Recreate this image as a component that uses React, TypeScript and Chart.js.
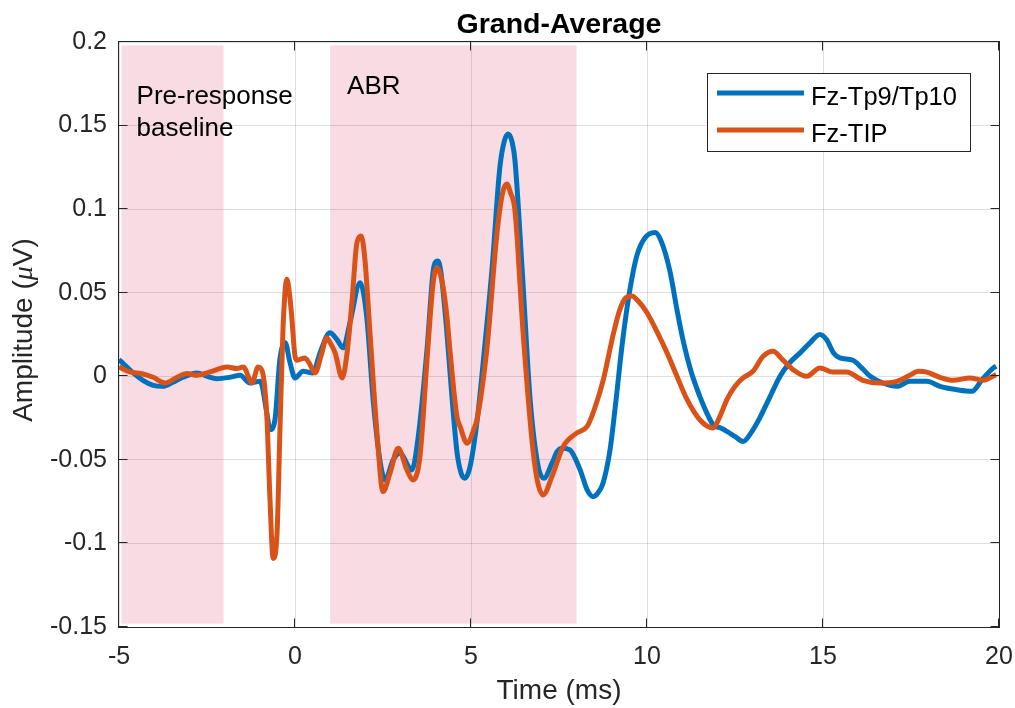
import React, { useEffect, useRef } from "react";
import { Chart, registerables } from "chart.js";

Chart.register(...registerables);

// ---- Data ----
const timeBlue = [
  -5.0, -4.83, -4.6, -4.32, -4.03, -3.75, -3.47, -3.18, -2.78, -2.5, -2.22, -1.85, -1.56, -1.28, -0.99,
  -0.8, -0.71, -0.57, -0.43, -0.28, -0.14, 0.0, 0.23, 0.51, 0.71, 0.99, 1.19, 1.37, 1.56, 1.85, 2.04,
  2.22, 2.41, 2.56, 2.79, 2.98, 3.32, 3.49, 3.75, 3.92, 3.98, 4.06, 4.14, 4.3, 4.45, 4.6, 4.72, 4.83,
  4.95, 5.06, 5.2, 5.4, 5.6, 5.82, 5.95, 6.06, 6.17, 6.25, 6.45, 6.68, 6.91, 7.07, 7.3, 7.45, 7.59,
  7.81, 8.1, 8.3, 8.47, 8.6, 8.75, 8.95, 9.1, 9.3, 9.5, 9.71, 9.95, 10.23, 10.4, 10.65, 10.85, 11.02,
  11.25, 11.5, 11.7, 11.88, 12.1, 12.27, 12.5, 12.73, 12.95, 13.2, 13.5, 13.78, 14.05, 14.35, 14.63,
  14.91, 15.1, 15.3, 15.48, 15.85, 16.1, 16.34, 16.7, 17.1, 17.47, 17.95, 18.32, 18.8, 19.23, 19.52,
  19.84, 19.92,
];
const ampBlue = [
  0.01, 0.0066, 0.002, -0.0024, -0.0054, -0.006, -0.0036, -0.0006, 0.002, 0.0, -0.0014, -0.0006, 0.0006,
  -0.004, -0.003, -0.022, -0.032, -0.026, 0.01, 0.02, 0.008, -0.001, 0.003, 0.002, 0.014, 0.026, 0.022,
  0.017, 0.032, 0.056, 0.035, -0.014, -0.05, -0.062, -0.05, -0.046, -0.056, -0.038, 0.016, 0.062, 0.068,
  0.069, 0.063, 0.03, -0.01, -0.045, -0.058, -0.061, -0.056, -0.044, -0.022, 0.02, 0.065, 0.125, 0.141,
  0.145, 0.14, 0.129, 0.065, -0.014, -0.054, -0.061, -0.052, -0.045, -0.043, -0.044, -0.056, -0.068,
  -0.072, -0.07, -0.064, -0.044, -0.018, 0.02, 0.05, 0.072, 0.083, 0.086, 0.081, 0.063, 0.04, 0.022,
  0.003, -0.012, -0.022, -0.029, -0.031, -0.033, -0.036, -0.039, -0.034, -0.025, -0.012, 0.0, 0.008,
  0.014, 0.02, 0.025, 0.022, 0.014, 0.011, 0.0096, 0.005, 0.0, -0.004, -0.006, -0.003, -0.003, -0.006,
  -0.008, -0.009, -0.002, 0.005, 0.006,
];

const timeOrange = [
  -5.0, -4.69, -4.32, -4.03, -3.69, -3.35, -3.07, -2.78, -2.41, -1.93, -1.65, -1.47, -1.22, -1.05, -0.93,
  -0.8, -0.71, -0.62, -0.51, -0.43, -0.34, -0.23, -0.16, -0.09, 0.0, 0.06, 0.28, 0.4, 0.57, 0.75, 0.9,
  1.0, 1.14, 1.34, 1.48, 1.62, 1.76, 1.88, 1.99, 2.13, 2.33, 2.5, 2.7, 2.93, 3.18, 3.35, 3.55, 3.75,
  3.92, 4.03, 4.1, 4.21, 4.32, 4.4, 4.6, 4.69, 4.89, 5.11, 5.17, 5.45, 5.74, 5.9, 6.02, 6.12, 6.25,
  6.48, 6.76, 6.9, 7.05, 7.3, 7.62, 8.0, 8.3, 8.5, 8.76, 9.04, 9.23, 9.4, 9.57, 9.75, 10.0, 10.3,
  10.57, 10.85, 11.14, 11.5, 11.88, 12.05, 12.27, 12.5, 12.73, 13.01, 13.3, 13.58, 13.85, 14.15, 14.54,
  14.91, 15.28, 15.67, 16.13, 16.62, 17.1, 17.47, 17.7, 17.95, 18.32, 18.7, 19.18, 19.55, 19.92,
];
const ampOrange = [
  0.0056, 0.0026, 0.0014, -0.0006, -0.004, -0.0006, 0.0016, 0.0006, 0.0026, 0.0056, 0.0046, 0.0056,
  -0.004, 0.0056, 0.003, -0.024, -0.074, -0.109, -0.094, -0.034, 0.029, 0.058, 0.05, 0.035, 0.012,
  0.0096, 0.011, 0.008, 0.002, 0.013, 0.023, 0.02, 0.014, -0.001, 0.014, 0.045, 0.08, 0.084, 0.069,
  0.026, -0.034, -0.069, -0.058, -0.043, -0.056, -0.062, -0.048, 0.0096, 0.055, 0.065, 0.063, 0.053,
  0.035, 0.016, -0.024, -0.03, -0.04, -0.03, -0.026, 0.016, 0.086, 0.11, 0.115, 0.11, 0.099, 0.026,
  -0.044, -0.064, -0.071, -0.06, -0.042, -0.034, -0.03, -0.02, -0.002, 0.025, 0.04, 0.047, 0.048, 0.045,
  0.038, 0.026, 0.014, 0.0, -0.014, -0.026, -0.031, -0.025, -0.014, -0.006, -0.001, 0.003, 0.012, 0.015,
  0.01, 0.004, 0.0, 0.005, 0.0025, 0.0025, -0.0024, -0.004, -0.003, 0.0006, 0.003, 0.0025, -0.0006,
  -0.0024, -0.001, -0.0024, 0.001,
];

const seriesLabels = ["Fz-Tp9/Tp10", "Fz-TIP"];
const seriesColors = ["#0072BD", "#D95319"];

const xTicks = [-5, 0, 5, 10, 15, 20];
const xTickLabels = ["-5", "0", "5", "10", "15", "20"];
const yTicks = [-0.15, -0.1, -0.05, 0, 0.05, 0.1, 0.15, 0.2];
const yTickLabels = ["-0.15", "-0.1", "-0.05", "0", "0.05", "0.1", "0.15", "0.2"];

// shaded windows [start, end] in ms, and their vertical extent
const shadeStarts = [-4.93, 1.0];
const shadeEnds = [-2.03, 8.0];
const shadeTop = 0.198;
const shadeBottom = -0.148;

// region annotations: text lines, x (ms), y (µV) of each baseline
const noteLines = ["Pre-response", "baseline", "ABR"];
const noteX = [-4.5, -4.5, 1.48];
const noteY = [0.163, 0.1435, 0.169];

const FONT = '"Liberation Sans", Arial, Helvetica, sans-serif';
const AXIS_COLOR = "#262626";
const GRID_COLOR = "rgba(38,38,38,0.15)";

const decorPlugin = {
  id: "decor",
  beforeDraw(chart: any) {
    const { ctx, scales } = chart;
    const x = scales.x;
    const y = scales.y;
    ctx.save();
    ctx.fillStyle = "#f9dbe3";
    for (let i = 0; i < shadeStarts.length; i++) {
      const x0 = x.getPixelForValue(shadeStarts[i]);
      const x1 = x.getPixelForValue(shadeEnds[i]);
      const y0 = y.getPixelForValue(shadeTop);
      const y1 = y.getPixelForValue(shadeBottom);
      ctx.fillRect(x0, y0, x1 - x0, y1 - y0);
    }
    ctx.restore();
  },
  afterDraw(chart: any) {
    const { ctx, chartArea, scales } = chart;
    const x = scales.x;
    const y = scales.y;
    const { left, right, top, bottom } = chartArea;
    ctx.save();

    // axes box
    ctx.strokeStyle = AXIS_COLOR;
    ctx.lineWidth = 1;
    ctx.strokeRect(Math.round(left) - 0.5, Math.round(top) - 0.5, Math.round(right - left) + 1, Math.round(bottom - top) + 1);

    // inward tick marks on all four sides
    const tl = 8.5;
    ctx.beginPath();
    for (const v of xTicks) {
      const px = Math.round(x.getPixelForValue(v)) - 0.5;
      ctx.moveTo(px, bottom);
      ctx.lineTo(px, bottom - tl);
      ctx.moveTo(px, top);
      ctx.lineTo(px, top + tl);
    }
    for (const v of yTicks) {
      const py = Math.round(y.getPixelForValue(v)) - 0.5;
      ctx.moveTo(left, py);
      ctx.lineTo(left + tl, py);
      ctx.moveTo(right, py);
      ctx.lineTo(right - tl, py);
    }
    ctx.stroke();

    // title
    ctx.fillStyle = "#000";
    ctx.font = `bold 28.5px ${FONT}`;
    ctx.textAlign = "center";
    ctx.textBaseline = "alphabetic";
    ctx.fillText("Grand-Average", (left + right) / 2, 33);

    // x label
    ctx.fillStyle = AXIS_COLOR;
    ctx.font = `28px ${FONT}`;
    ctx.fillText("Time (ms)", (left + right) / 2, 699);

    // y label with italic mu
    const parts = [
      { t: "Amplitude (", f: `28px ${FONT}` },
      { t: "\u03BC", f: `italic 28px "Liberation Serif", "DejaVu Serif", serif` },
      { t: "V)", f: `28px ${FONT}` },
    ];
    let total = 0;
    const widths: number[] = [];
    for (const p of parts) {
      ctx.font = p.f;
      const w = ctx.measureText(p.t).width;
      widths.push(w);
      total += w;
    }
    ctx.save();
    ctx.translate(32, 330);
    ctx.rotate(-Math.PI / 2);
    ctx.textAlign = "left";
    let cx = -total / 2;
    parts.forEach((p, i) => {
      ctx.font = p.f;
      ctx.fillText(p.t, cx, 0);
      cx += widths[i];
    });
    ctx.restore();

    // annotations
    ctx.fillStyle = "#000";
    ctx.font = `26px ${FONT}`;
    ctx.textAlign = "left";
    for (let i = 0; i < noteLines.length; i++) {
      ctx.fillText(noteLines[i], x.getPixelForValue(noteX[i]), y.getPixelForValue(noteY[i]));
    }

    // legend
    const bx = 707.5, by = 73.5, bw = 263, bh = 78;
    ctx.fillStyle = "#fff";
    ctx.fillRect(bx, by, bw, bh);
    ctx.strokeStyle = AXIS_COLOR;
    ctx.lineWidth = 1;
    ctx.strokeRect(bx, by, bw, bh);
    const rowsY = [93, 130];
    chart.data.datasets.forEach((ds: any, i: number) => {
      ctx.strokeStyle = ds.borderColor;
      ctx.lineWidth = 5;
      ctx.beginPath();
      ctx.moveTo(717, rowsY[i]);
      ctx.lineTo(804, rowsY[i]);
      ctx.stroke();
      ctx.fillStyle = "#000";
      ctx.font = `25.5px ${FONT}`;
      ctx.fillText(ds.label, 811, rowsY[i] + 12);
    });

    ctx.restore();
  },
};

export default function App() {
  const canvasRef = useRef<HTMLCanvasElement | null>(null);

  useEffect(() => {
    if (!canvasRef.current) return;
    const blue = timeBlue.map((t, i) => ({ x: t, y: ampBlue[i] }));
    const orange = timeOrange.map((t, i) => ({ x: t, y: ampOrange[i] }));
    const chart = new Chart(canvasRef.current, {
      type: "scatter",
      data: {
        datasets: [
          {
            label: seriesLabels[0],
            data: blue,
            showLine: true,
            borderColor: seriesColors[0],
            backgroundColor: seriesColors[0],
            borderWidth: 5,
            pointRadius: 0,
            cubicInterpolationMode: "monotone",
            order: 1,
          },
          {
            label: seriesLabels[1],
            data: orange,
            showLine: true,
            borderColor: seriesColors[1],
            backgroundColor: seriesColors[1],
            borderWidth: 5,
            pointRadius: 0,
            cubicInterpolationMode: "monotone",
            order: 0,
          },
        ],
      },
      options: {
        animation: false,
        responsive: true,
        maintainAspectRatio: false,
        layout: { padding: { top: 42, right: 16, left: 0, bottom: 0 } },
        plugins: {
          legend: { display: false },
          title: { display: false },
          tooltip: { enabled: false },
        },
        scales: {
          x: {
            type: "linear",
            min: -5,
            max: 20,
            afterBuildTicks: (s: any) => {
              s.ticks = xTicks.map((v) => ({ value: v }));
            },
            afterFit: (s: any) => {
              s.height = 81;
              s.paddingLeft = 0;
              s.paddingRight = 0;
            },
            grid: { color: GRID_COLOR, drawTicks: false, lineWidth: 1 },
            border: { display: false },
            ticks: {
              font: { family: FONT, size: 25 },
              color: AXIS_COLOR,
              padding: 15,
              maxRotation: 0,
              autoSkip: false,
              callback: (v: any) => xTickLabels[xTicks.indexOf(Number(v))] ?? String(v),
            },
          },
          y: {
            type: "linear",
            min: -0.15,
            max: 0.2,
            afterBuildTicks: (s: any) => {
              s.ticks = yTicks.map((v) => ({ value: v }));
            },
            afterFit: (s: any) => {
              s.width = 119;
              s.paddingTop = 0;
              s.paddingBottom = 0;
            },
            grid: { color: GRID_COLOR, drawTicks: false, lineWidth: 1 },
            border: { display: false },
            ticks: {
              font: { family: FONT, size: 25 },
              color: AXIS_COLOR,
              padding: 12,
              autoSkip: false,
              callback: (v: any) => yTickLabels[yTicks.indexOf(Number(v))] ?? String(v),
            },
          },
        },
      },
      plugins: [decorPlugin],
    });
    return () => chart.destroy();
  }, []);

  return (
    <div style={{ position: "fixed", left: 0, top: 0, width: 1015, height: 708, background: "#fff" }}>
      <canvas ref={canvasRef} />
    </div>
  );
}
